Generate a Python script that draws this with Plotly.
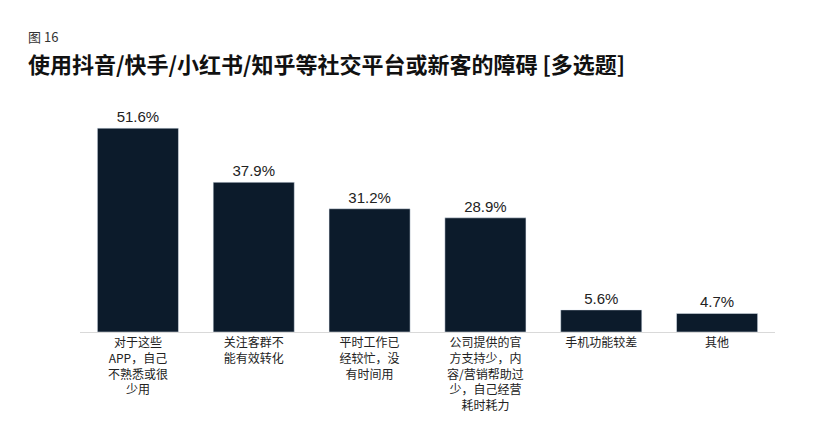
import plotly.graph_objects as go

categories = ["对于这些<br>APP，自己<br>不熟悉或很<br>少用", "关注客群不<br>能有效转化", "平时工作已<br>经较忙，没<br>有时间用",
              "公司提供的官<br>方支持少，内<br>容/营销帮助过<br>少，自己经营<br>耗时耗力", "手机功能较差", "其他"]
values = [51.6, 37.9, 31.2, 28.9, 5.6, 4.7]
labels = [f"{v:.1f}%" for v in values]

fig = go.Figure(go.Bar(
    x=list(range(len(categories))), y=values, text=labels, textposition="outside",
    marker_color="#0c1b2b", width=0.7, cliponaxis=False,
    textfont=dict(family="Arial, Liberation Sans", size=15, color="#222"),
))
fig.update_layout(
    width=819, height=447, plot_bgcolor="white", paper_bgcolor="white",
    margin=dict(l=72, r=52, t=100, b=123), showlegend=False,
    xaxis=dict(tickmode="array", tickvals=list(range(len(categories))), ticktext=categories,
               range=[-0.5, 5.5], showline=True, linecolor="#d9d9d9", ticks="",
               tickfont=dict(family="Noto Sans CJK SC", size=12, color="#222")),
    yaxis=dict(range=[0, 56.7], visible=False),
)
fig.add_annotation(text="图 16", xref="paper", yref="paper", x=-0.078, y=1.37, xanchor="left", yanchor="top",
                   showarrow=False, font=dict(family="Noto Sans CJK SC", size=13, color="#333"))
fig.add_annotation(text="<b>使用抖音/快手/小红书/知乎等社交平台或新客的障碍 [多选题]</b>", xref="paper", yref="paper",
                   x=-0.078, y=1.28, xanchor="left", yanchor="top", showarrow=False,
                   font=dict(family="Noto Sans CJK SC", size=22, color="#111"))
fig.write_html("out.html")
